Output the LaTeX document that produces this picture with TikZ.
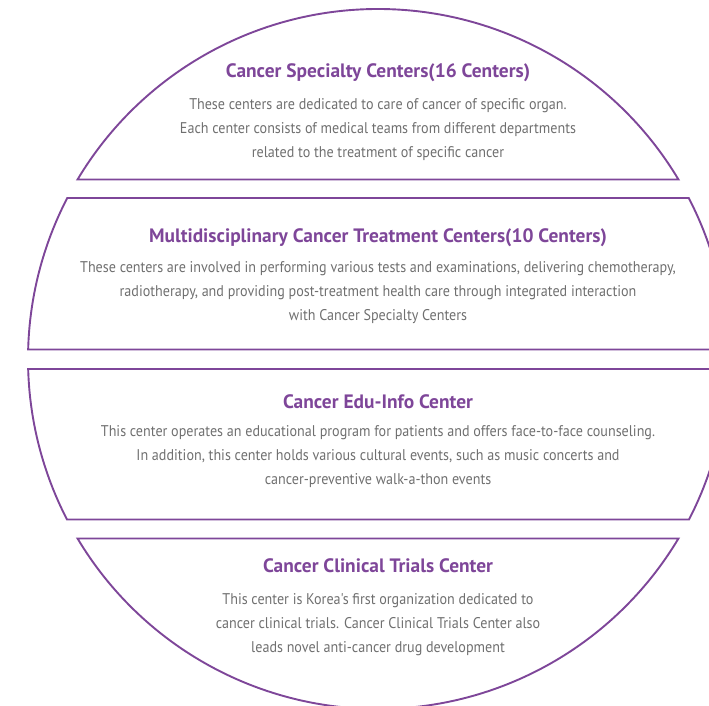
\documentclass[tikz,border=0pt]{standalone}
\usepackage{fontspec}
\setmainfont{PT Sans}
\newfontfamily\narrowfont[FakeStretch=0.91]{PT Sans}
\usetikzlibrary{positioning}
\definecolor{centerpurple}{HTML}{7E4699}
\definecolor{textgray}{HTML}{6F6F6F}

\begin{document}
\begin{tikzpicture}[
    x=1pt, y=1pt, node distance=15pt,
    band/.style={draw=centerpurple, line width=1.9pt},
    title/.style={text=centerpurple, inner sep=0pt, font=\bfseries\fontsize{19.4}{22}\selectfont},
    body/.style={text=textgray, inner sep=0pt, align=center, font=\narrowfont\fontsize{15.5}{24}\selectfont}
]

    \clip (0,0) rectangle (709,705);
    \coordinate (C) at (378,346);

    % four bands cut out of one circle
    \foreach \ya/\yb in {350/179.5, 161/9.5, -10/-160.5, -179.5/-350} {
        \pgfmathsetmacro{\ta}{asin(\ya/350)}
        \pgfmathsetmacro{\tb}{asin(\yb/350)}
        \draw[band] ([shift={(C)}]\ta:350) arc[start angle=\ta, end angle=\tb, radius=350]
            -- ([shift={(C)}]180-\tb:350) arc[start angle=180-\tb, end angle=180-\ta, radius=350]
            -- cycle;
    }

    \node[title] (T1) at (378,632) {Cancer Specialty Centers(16 Centers)};
    \node[body, below=16.5pt of T1] (B1) {These centers are dedicated to care of cancer of specific organ.\\
        Each center consists of medical teams from different departments\\
        related to the treatment of specific cancer};

    \node[title] (T2) at (378,467.5) {Multidisciplinary Cancer Treatment Centers(10 Centers)};
    \node[body, below=of T2] (B2) {These centers are involved in performing various tests and examinations, delivering chemotherapy,\\
        radiotherapy, and providing post-treatment health care through integrated interaction\\
        with Cancer Specialty Centers};

    \node[title] (T3) at (378,303) {Cancer Edu-Info Center};
    \node[body, below=16.5pt of T3] (B3) {This center operates an educational program for patients and offers face-to-face counseling.\\
        In addition, this center holds various cultural events, such as music concerts and\\
        cancer-preventive walk-a-thon events};

    \node[title] (T4) at (378,139) {Cancer Clinical Trials Center};
    \node[body, below=20pt of T4] (B4) {This center is Korea's first organization dedicated to\\
        cancer clinical trials. Cancer Clinical Trials Center also\\
        leads novel anti-cancer drug development};

\end{tikzpicture}
\end{document}
